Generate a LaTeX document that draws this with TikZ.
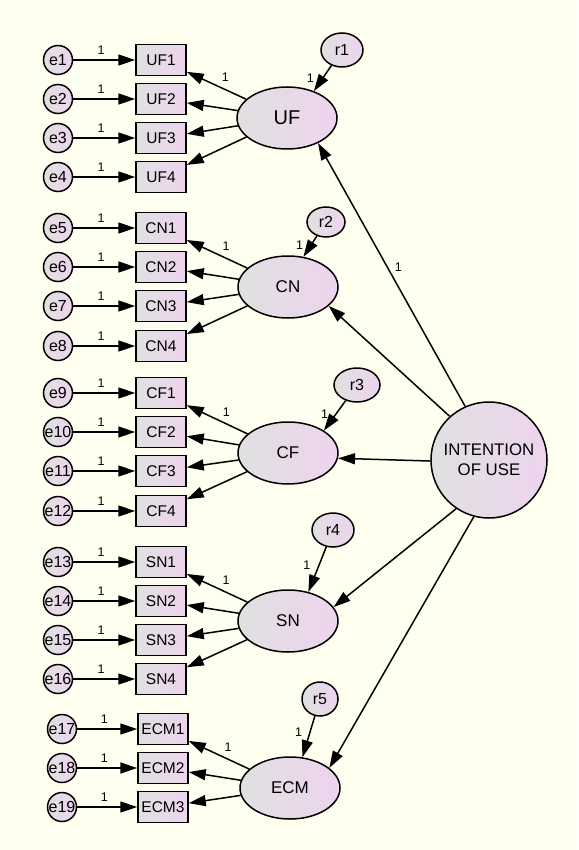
\documentclass[tikz,border=0pt]{standalone}
\usepackage{fontspec}
\setmainfont{Liberation Sans}
\usetikzlibrary{arrows.meta,shapes.geometric}
\definecolor{paper}{RGB}{255,255,240}
\definecolor{fillL}{RGB}{224,224,224}
\definecolor{fillR}{RGB}{238,212,238}
\begin{document}
\begin{tikzpicture}[x=1pt,y=-1pt,>={Triangle[length=17pt,width=11pt]},line width=1.5pt,
    err/.style={circle,draw,left color=fillL,right color=fillR,minimum size=29pt,inner sep=0pt,font=\fontsize{16}{16}\selectfont},
    ind/.style={rectangle,draw,left color=fillL,right color=fillR,minimum width=50pt,minimum height=31pt,inner sep=0pt,font=\fontsize{15.5}{16}\selectfont},
    latent/.style={ellipse,draw,left color=fillL,right color=fillR,minimum width=100pt,minimum height=62pt,inner sep=0pt,font=\fontsize{17}{18}\selectfont},
    resid/.style={ellipse,draw,left color=fillL,right color=fillR,minimum width=42pt,minimum height=34pt,inner sep=0pt,font=\fontsize{16}{16}\selectfont},
    one/.style={font=\fontsize{12.5}{13}\selectfont,inner sep=3pt}]
    \useasboundingbox[fill=paper] (0,0) rectangle (578,850);

    \node[circle,draw,left color=fillL,right color=fillR,minimum size=116pt,inner sep=0pt,align=center,
        font=\fontsize{16.8}{20}\selectfont] (iou) at (489,460) {INTENTION\\OF USE};

    % UF
    \node[latent,font=\fontsize{20}{20}\selectfont] (UF) at (287,118) {UF};
    \node[resid] (r1) at (342,50) {r1};
    \draw[->] (r1) -- node[one,left=5pt,pos=0.5]{1} (UF.45);
    \foreach \i/\y in {1/60,2/99,3/138,4/177} {
        \node[ind] (UF\i) at (161,\y) {UF\i};
        \node[err] (e\i) at (58,\y) {e\i};
        \draw[->] (e\i) -- node[one,above=2pt,pos=0.45]{1} (UF\i);
    }
    \draw[->] (UF) -- node[one,above=4pt,pos=0.35]{1} (UF1);
    \foreach \i in {2,3,4}
        \draw[->] (UF) -- (UF\i);

    % CN
    \node[latent] (CN) at (288,287) {CN};
    \node[resid,minimum width=38pt,minimum height=30pt] (r2) at (326,222) {r2};
    \draw[->] (r2) -- node[one,left=4pt,pos=0.45]{1} (CN.63);
    \foreach \i/\y in {5/228,6/267,7/306,8/346} {
        \pgfmathtruncatemacro\k{\i-4}
        \node[ind] (CN\k) at (161,\y) {CN\k};
        \node[err] (e\i) at (58,\y) {e\i};
        \draw[->] (e\i) -- node[one,above=2pt,pos=0.45]{1} (CN\k);
    }
    \draw[->] (CN) -- node[one,above=4pt,pos=0.35]{1} (CN1);
    \foreach \i in {2,3,4}
        \draw[->] (CN) -- (CN\i);

    % CF
    \node[latent] (CF) at (288,453) {CF};
    \node[resid,minimum width=46pt] (r3) at (357,385) {r3};
    \draw[->] (r3) -- node[one,left=4pt,pos=0.45]{1} (CF.32);
    \foreach \i/\y in {9/393,10/432,11/471,12/511} {
        \pgfmathtruncatemacro\k{\i-8}
        \node[ind] (CF\k) at (161,\y) {CF\k};
        \node[err] (e\i) at (58,\y) {e\i};
        \draw[->] (e\i) -- node[one,above=2pt,pos=0.45]{1} (CF\k);
    }
    \draw[->] (CF) -- node[one,above=4pt,pos=0.35]{1} (CF1);
    \foreach \i in {2,3,4}
        \draw[->] (CF) -- (CF\i);

    % SN
    \node[latent] (SN) at (288,621) {SN};
    \node[resid] (r4) at (333,530) {r4};
    \draw[->] (r4) -- node[one,left=5pt,pos=0.4]{1} (SN.55);
    \foreach \i/\y in {13/562,14/601,15/640,16/679} {
        \pgfmathtruncatemacro\k{\i-12}
        \node[ind] (SN\k) at (161,\y) {SN\k};
        \node[err] (e\i) at (58,\y) {e\i};
        \draw[->] (e\i) -- node[one,above=2pt,pos=0.45]{1} (SN\k);
    }
    \draw[->] (SN) -- node[one,above=4pt,pos=0.35]{1} (SN1);
    \foreach \i in {2,3,4}
        \draw[->] (SN) -- (SN\i);

    % ECM
    \node[latent] (ECM) at (290,788) {ECM};
    \node[resid,minimum width=36pt] (r5) at (320,699) {r5};
    \draw[->] (r5) -- node[one,left=4pt,pos=0.4]{1} (ECM.68);
    \foreach \i/\y in {17/729,18/768,19/807} {
        \pgfmathtruncatemacro\k{\i-16}
        \node[ind] (ECM\k) at (163,\y) {ECM\k};
        \node[err] (e\i) at (62,\y) {e\i};
        \draw[->] (e\i) -- node[one,above=2pt,pos=0.45]{1} (ECM\k);
    }
    \draw[->] (ECM) -- node[one,above=4pt,pos=0.35]{1} (ECM1);
    \foreach \i in {2,3}
        \draw[->] (ECM) -- (ECM\i);

    % structural paths
    \draw[->] (iou.114) -- node[one,right=4pt,pos=0.53]{1} (UF.-39);
    \draw[->] (iou.132) -- (CN.-25);
    \draw[->] (iou.181) -- (CF.-6);
    \draw[->] (iou.236) -- (SN.17);
    \draw[->] (iou.255) -- (ECM.27);
\end{tikzpicture}
\end{document}
